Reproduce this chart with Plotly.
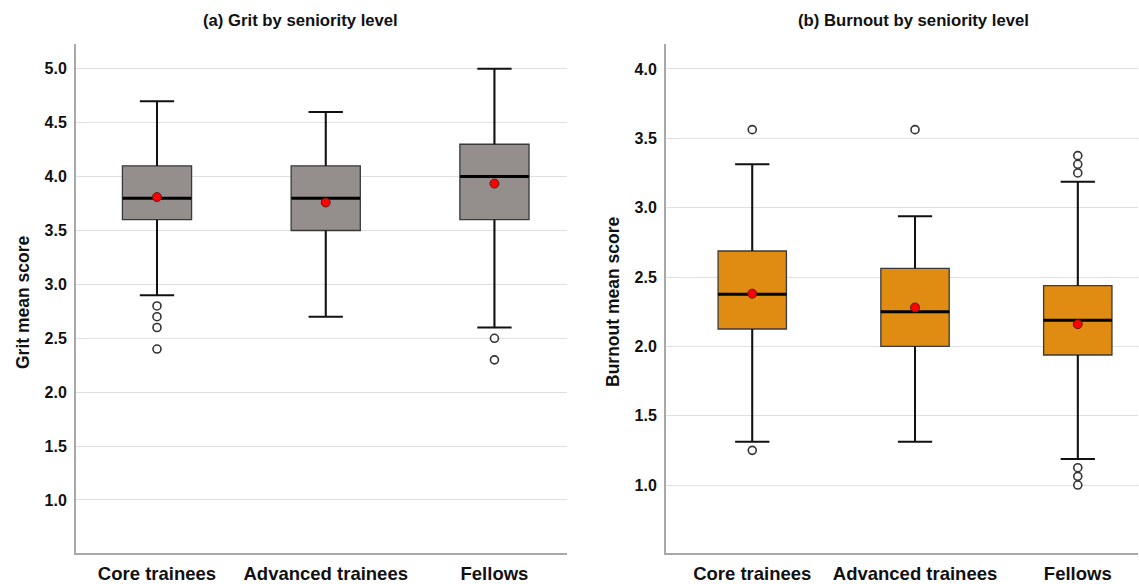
import plotly.graph_objects as go

categories = ["Core trainees", "Advanced trainees", "Fellows"]

# (a) Grit
grit_lower = [2.9, 2.7, 2.6]
grit_q1 = [3.6, 3.5, 3.6]
grit_median = [3.8, 3.8, 4.0]
grit_q3 = [4.1, 4.1, 4.3]
grit_upper = [4.7, 4.6, 5.0]
grit_mean = [3.81, 3.76, 3.935]
grit_outliers = {
    "Core trainees": [2.8, 2.7, 2.6, 2.4],
    "Advanced trainees": [],
    "Fellows": [2.5, 2.3],
}

# (b) Burnout
burn_lower = [1.3125, 1.3125, 1.1875]
burn_q1 = [2.125, 2.0, 1.9375]
burn_median = [2.375, 2.25, 2.1875]
burn_q3 = [2.6875, 2.5625, 2.4375]
burn_upper = [3.3125, 2.9375, 3.1875]
burn_mean = [2.38, 2.28, 2.16]
burn_outliers = {
    "Core trainees": [3.5625, 1.25],
    "Advanced trainees": [3.5625],
    "Fellows": [3.375, 3.3125, 3.25, 1.125, 1.0625, 1.0],
}

FONT = "Liberation Sans, Arial, sans-serif"
fig = go.Figure()


def add_panel(xa, ya, lower, q1, med, q3, upper, mean, outliers, fill, width):
    fig.add_trace(go.Box(
        x=categories, q1=q1, median=med, q3=q3, lowerfence=lower, upperfence=upper,
        width=width, fillcolor=fill, line=dict(color="#3a3a3a", width=1.3),
        boxpoints=False, whiskerwidth=0, showlegend=False, hoverinfo="skip",
        xaxis=xa, yaxis=ya,
    ))
    # thicker whisker stems (no caps)
    fig.add_trace(go.Scatter(
        x=categories, y=q3, mode="markers",
        marker=dict(size=1, color="rgba(0,0,0,0)"),
        error_y=dict(type="data", symmetric=False,
                     array=[u - q for u, q in zip(upper, q3)],
                     arrayminus=[0] * len(q3), width=0, thickness=2, color="#111"),
        showlegend=False, hoverinfo="skip", xaxis=xa, yaxis=ya,
    ))
    fig.add_trace(go.Scatter(
        x=categories, y=q1, mode="markers",
        marker=dict(size=1, color="rgba(0,0,0,0)"),
        error_y=dict(type="data", symmetric=False,
                     array=[0] * len(q1),
                     arrayminus=[q - l for q, l in zip(q1, lower)], width=0, thickness=2, color="#111"),
        showlegend=False, hoverinfo="skip", xaxis=xa, yaxis=ya,
    ))
    # whisker caps
    fig.add_trace(go.Scatter(
        x=categories + categories, y=list(upper) + list(lower), mode="markers",
        marker=dict(symbol="line-ew", size=24.5, line=dict(width=2, color="#111")),
        showlegend=False, hoverinfo="skip", xaxis=xa, yaxis=ya,
    ))
    # median line
    fig.add_trace(go.Scatter(
        x=categories, y=med, mode="markers",
        marker=dict(symbol="line-ew", size=49, line=dict(width=3, color="#000")),
        showlegend=False, hoverinfo="skip", xaxis=xa, yaxis=ya,
    ))
    # outliers
    ox, oy = [], []
    for c in categories:
        for v in outliers[c]:
            ox.append(c)
            oy.append(v)
    fig.add_trace(go.Scatter(
        x=ox, y=oy, mode="markers",
        marker=dict(symbol="circle", size=8, color="white", line=dict(width=1.6, color="#333")),
        showlegend=False, hoverinfo="skip", xaxis=xa, yaxis=ya,
    ))
    # means
    fig.add_trace(go.Scatter(
        x=categories, y=mean, mode="markers",
        marker=dict(symbol="circle", size=9, color="#ff0000", line=dict(width=1, color="#5a1a1a")),
        showlegend=False, hoverinfo="skip", xaxis=xa, yaxis=ya,
    ))


add_panel("x", "y", grit_lower, grit_q1, grit_median, grit_q3, grit_upper, grit_mean,
          grit_outliers, "#948f8d", 0.41)
add_panel("x2", "y2", burn_lower, burn_q1, burn_median, burn_q3, burn_upper, burn_mean,
          burn_outliers, "#e08b12", 0.42)

W, H = 1139, 584
ML, MR, MT, MB = 0, 0, 44, 31
PH = H - MT - MB

xcommon = dict(type="category", categoryorder="array", categoryarray=categories,
               showline=True, linecolor="#a8a8a8", linewidth=2, showgrid=False,
               ticks="", zeroline=False,
               tickfont=dict(family=FONT, size=18.5, color="#111", weight="bold"),
               ticklabelstandoff=3, fixedrange=True)
ycommon = dict(showline=True, linecolor="#a8a8a8", linewidth=2, showgrid=True,
               gridcolor="#e0e0e0", gridwidth=1, ticks="", zeroline=False,
               tickfont=dict(family=FONT, size=16, color="#111", weight="bold"),
               ticklabelstandoff=4, dtick=0.5, tickformat=".1f", fixedrange=True)

fig.update_layout(
    width=W, height=H,
    margin=dict(l=ML, r=MR, t=MT, b=MB),
    paper_bgcolor="white", plot_bgcolor="white",
    showlegend=False,
    hovermode=False,
    xaxis=dict(xcommon, domain=[76 / W, 567 / W], range=[-0.48, 2.43], anchor="y"),
    yaxis=dict(ycommon, domain=[0, 1], range=[0.508, 5.23], tick0=1.0, anchor="x"),
    xaxis2=dict(xcommon, domain=[666 / W, 1138 / W], range=[-0.53, 2.37], anchor="y2"),
    yaxis2=dict(ycommon, domain=[0, 1], range=[0.51, 4.18], tick0=1.0, anchor="x2"),
    annotations=[
        dict(text="(a) Grit by seniority level", x=300 / W, y=1 + 23 / PH,
             xref="paper", yref="paper", xanchor="center", yanchor="middle", showarrow=False,
             font=dict(family=FONT, size=16.7, color="#111", weight="bold")),
        dict(text="(b) Burnout by seniority level", x=913 / W, y=1 + 23 / PH,
             xref="paper", yref="paper", xanchor="center", yanchor="middle", showarrow=False,
             font=dict(family=FONT, size=16.7, color="#111", weight="bold")),
        dict(text="Grit mean score", x=23 / W, y=(553 - 302) / PH, textangle=-90,
             xref="paper", yref="paper", xanchor="center", yanchor="middle", showarrow=False,
             font=dict(family=FONT, size=17.5, color="#111", weight="bold")),
        dict(text="Burnout mean score", x=613 / W, y=(553 - 302) / PH, textangle=-90,
             xref="paper", yref="paper", xanchor="center", yanchor="middle", showarrow=False,
             font=dict(family=FONT, size=17.5, color="#111", weight="bold")),
    ],
)

fig.write_html("out.html", config={"displayModeBar": False, "staticPlot": True},
               post_script="document.body.style.margin='0';document.body.style.overflow='hidden';")
